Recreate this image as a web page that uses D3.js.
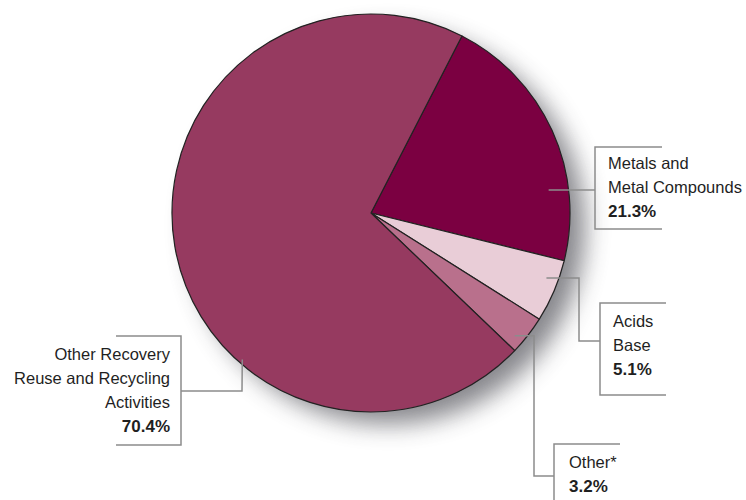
<!DOCTYPE html>
<html lang="en">
  <head>
    <meta charset="utf-8" />
    <title>Recovery Breakdown</title>
    <script src="https://d3js.org/d3.v7.min.js"></script>
    <style>
      body { margin: 0; background: white; }
      text { font-family: "Liberation Sans", Arial, sans-serif; fill: #1f1f1f; }
    </style>
  </head>
  <body>
    <div id="chart"></div>
    <script>
      // data (clockwise, starting at the top-right slice)
      var categories = ["Metals and Metal Compounds", "Acids Base", "Other*", "Other Recovery Reuse and Recycling Activities"];
      var labelLines = [
        ["Metals and", "Metal Compounds"],
        ["Acids", "Base"],
        ["Other*"],
        ["Other Recovery", "Reuse and Recycling", "Activities"]
      ];
      var values = [21.3, 5.1, 3.2, 70.4];
      var colors = ["#7b0041", "#e9cdd7", "#b9708c", "#963a60"];

      var width = 746, height = 500;
      var cx = 371, cy = 213, radius = 199;
      var start = 27.2 * Math.PI / 180;

      // label layout: where the leader leaves the pie (angle in deg, fraction of radius),
      // the elbow points and the bracket box
      var layout = [
        { ang: 82.6, rf: 0.9, path: [[595, 190]], box: { side: "left", x: 595, top: 147, bottom: 229, len: 67 }, tx: 608, ty: 169, anchor: "start" },
        { ang: 110.3, rf: 0.94, path: [[579, null], [579, 341], [600, 341]], box: { side: "left", x: 600, top: 303, bottom: 395, len: 66 }, tx: 613, ty: 327, anchor: "start" },
        { ang: 130.5, rf: 0.95, path: [[534, null], [534, 476], [554, 476]], box: { side: "left", x: 554, top: 444, bottom: 520, len: 66 }, tx: 569, ty: 468, anchor: "start" },
        { ang: 221.3, rf: 0.98, path: [[242, 391], [181, 391]], box: { side: "right", x: 181, top: 336, bottom: 445, len: 65 }, tx: 170, ty: 360, anchor: "end" }
      ];

      var svg = d3.select("#chart").append("svg")
        .attr("width", width).attr("height", height);

      var defs = svg.append("defs");
      defs.append("filter").attr("id", "shadow")
        .attr("x", "-30%").attr("y", "-30%").attr("width", "160%").attr("height", "160%")
        .append("feGaussianBlur").attr("stdDeviation", 12);

      var g = svg.append("g").attr("transform", "translate(" + cx + "," + cy + ")");

      // soft shadow to the lower right
      g.append("circle")
        .attr("cx", 17).attr("cy", 14).attr("r", radius - 2)
        .attr("fill", "#7a7a80").attr("opacity", 0.9)
        .attr("filter", "url(#shadow)");

      var pie = d3.pie().sort(null).startAngle(start).endAngle(start + 2 * Math.PI);
      var arc = d3.arc().innerRadius(0).outerRadius(radius);
      var arcs = pie(values);

      g.selectAll("path.slice")
        .data(arcs)
        .enter()
        .append("path")
        .attr("class", "slice")
        .attr("d", arc)
        .attr("fill", function (d, i) { return colors[i]; })
        .attr("stroke", "#222")
        .attr("stroke-width", 1.2)
        .attr("stroke-linejoin", "round");

      // leaders and bracket boxes
      layout.forEach(function (l, i) {
        var a = l.ang * Math.PI / 180;
        var p0 = [cx + Math.sin(a) * radius * l.rf, cy - Math.cos(a) * radius * l.rf];
        var pts = [p0];
        l.path.forEach(function (p) {
          pts.push([p[0], p[1] === null ? p0[1] : p[1]]);
        });
        svg.append("path")
          .attr("d", d3.line()(pts))
          .attr("fill", "none").attr("stroke", "#8c8c8c").attr("stroke-width", 1.5);

        var b = l.box;
        var dir = b.side === "left" ? 1 : -1;
        svg.append("path")
          .attr("d", d3.line()([[b.x + dir * b.len, b.top], [b.x, b.top], [b.x, b.bottom], [b.x + dir * b.len, b.bottom]]))
          .attr("fill", "none").attr("stroke", "#8c8c8c").attr("stroke-width", 1.5);

        var t = svg.append("text")
          .attr("x", l.tx).attr("y", l.ty)
          .attr("text-anchor", l.anchor)
          .style("font-size", "16.5px");
        labelLines[i].forEach(function (line, k) {
          t.append("tspan").attr("x", l.tx).attr("dy", k === 0 ? 0 : 24).text(line);
        });
        t.append("tspan").attr("x", l.tx).attr("dy", 24)
          .style("font-weight", "bold").style("font-size", "17px")
          .text(d3.format(".1f")(values[i]) + "%");
      });
    </script>
  </body>
</html>
